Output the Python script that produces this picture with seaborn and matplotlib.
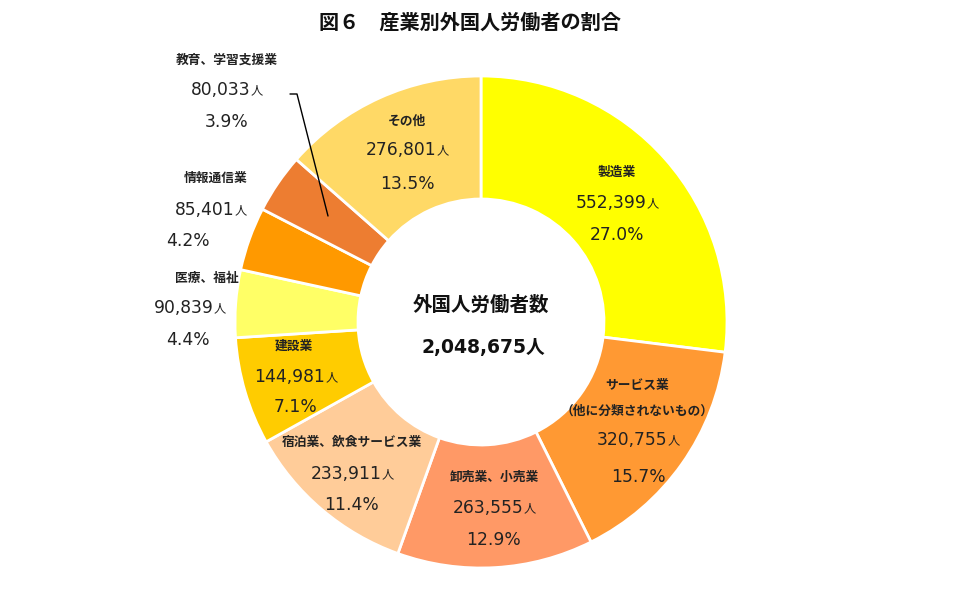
import matplotlib
matplotlib.use("Agg")
import matplotlib.pyplot as plt
import seaborn as sns

sns.set_theme(style="white")
plt.rcParams['font.family'] = ['Noto Sans CJK JP', 'DejaVu Sans']
NUMFONT = ['DejaVu Sans', 'Noto Sans CJK JP']

categories = ["製造業", "サービス業\n（他に分類されないもの）", "卸売業、小売業",
              "宿泊業、飲食サービス業", "建設業", "医療、福祉", "情報通信業",
              "教育、学習支援業", "その他"]
values = [552399, 320755, 263555, 233911, 144981, 90839, 85401, 80033, 276801]
percents = ["27.0%", "15.7%", "12.9%", "11.4%", "7.1%", "4.4%", "4.2%", "3.9%", "13.5%"]
colors = ["#FFFF00", "#FF9933", "#FF9966", "#FFCC99", "#FFCC00", "#FFFF66",
          "#FF9900", "#ED7D31", "#FFD966"]
total_label = "外国人労働者数"
total_value = "2,048,675人"
title = "図６　産業別外国人労働者の割合"

W, H = 957, 592
cx, cy, R = 481, 322, 246
fig = plt.figure(figsize=(W / 100, H / 100), dpi=100)
ax = fig.add_axes([(cx - R) / W, (H - cy - R) / H, 2 * R / W, 2 * R / H])
palette = sns.color_palette(colors)
ax.pie(values, colors=palette, startangle=90, counterclock=False, radius=1,
       wedgeprops=dict(width=0.5, edgecolor="white", linewidth=2))
ax.set_xlim(-1, 1)
ax.set_ylim(-1, 1)
ax.axis("off")


def d(px, py):
    return ((px - cx) / R, (cy - py) / R)


# label positions in pixels: (name_xy, number_xy, percent_xy)
label_pos = [
    [(617, 172), (617, 203), (617, 235)],
    [(637, 386), (638, 440), (638, 477)],
    [(494, 477), (494, 508), (494, 540)],
    [(352, 442), (352, 474), (352, 505)],
    [(294, 346), (296, 377), (295, 407)],
    [(207, 278), (190, 308), (188, 340)],
    [(216, 178), (211, 210), (188, 241)],
    [(227, 60), (227, 90), (227, 122)],
    [(407, 121), (407, 150), (407, 184)],
]

TXT = "#222222"
for cat, val, pct, pos in zip(categories, values, percents, label_pos):
    (nx, ny), (vx, vy), (px_, py_) = pos
    lines = cat.split("\n")
    if len(lines) == 2:
        ax.text(*d(nx, ny), lines[0], ha="center", va="center", fontsize=9.2,
                fontweight="bold", color=TXT)
        ax.text(*d(nx, ny + 25), lines[1], ha="center", va="center", fontsize=9.2,
                fontweight="bold", color=TXT)
    else:
        ax.text(*d(nx, ny), cat, ha="center", va="center", fontsize=9.2,
                fontweight="bold", color=TXT)
    t = ax.text(*d(vx - 6, vy), f"{val:,}", ha="center", va="center",
                fontsize=12.3, color=TXT, family=NUMFONT)
    ax.annotate("人", xy=(1, 0.1), xycoords=t, ha="left", va="bottom",
                fontsize=8.8, color=TXT)
    ax.text(*d(px_, py_), pct, ha="center", va="center", fontsize=12.3,
            color=TXT, family=NUMFONT)

# leader line for 教育、学習支援業
lx = [d(290, 94)[0], d(297, 94)[0], d(328, 216)[0]]
ly = [d(290, 94)[1], d(297, 94)[1], d(328, 216)[1]]
ax.plot(lx, ly, color="black", linewidth=1)

# center text
ax.text(*d(481, 305), total_label, ha="center", va="center", fontsize=14,
        fontweight="bold", color="#111111")
ax.text(*d(483, 348), total_value, ha="center", va="center", fontsize=13.5,
        fontweight="bold", color="#111111", family=NUMFONT)

fig.text(470 / W, 1 - 22 / H, title, ha="center", va="center", fontsize=14.5,
         fontweight="bold", color="#111111")

fig.savefig("out.png", dpi=100)
